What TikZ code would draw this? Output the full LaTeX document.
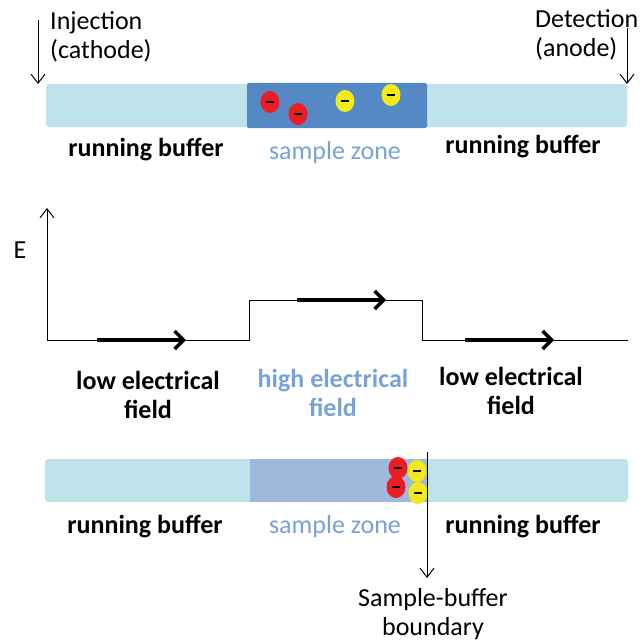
\documentclass[tikz,border=0pt]{standalone}
\usepackage{fontspec}
\setmainfont{Carlito}
\usetikzlibrary{arrows.meta,shapes.geometric}
\definecolor{buf}{RGB}{190,227,235}
\definecolor{samp}{RGB}{85,137,197}
\definecolor{sampl}{RGB}{157,185,219}
\definecolor{samptxt}{RGB}{120,162,214}
\definecolor{ionred}{RGB}{236,28,36}
\definecolor{ionyel}{RGB}{242,234,26}
\tikzset{
  lbl/.style={font=\fontsize{26}{29}\selectfont, inner sep=0pt, align=center},
  blbl/.style={lbl, font=\fontsize{26}{29}\selectfont\bfseries},
  thin arr/.style={line width=1pt, -{Straight Barb[length=9pt,width=14pt]}},
  fieldarr/.style={line width=4.5pt, -{Straight Barb[length=9pt,width=18pt,line width=3.5pt]}},
  ion/.style={ellipse, minimum width=19pt, minimum height=22pt, inner sep=0pt},
  redion/.style={ion, fill=ionred},
  yelion/.style={ion, fill=ionyel},
  bar/.style={rounded corners=3pt, fill=buf, draw=none},
}
\newcommand{\minusmark}[1]{\draw[line width=2.6pt] ([xshift=-4pt]#1.center) -- ([xshift=4pt]#1.center);}
\begin{document}
\begin{tikzpicture}[x=1pt,y=-1pt]
\useasboundingbox (0,0) rectangle (643,642);
% ---------- top tube
\fill[bar] (46,84) rectangle (627,127);
\fill[samp, rounded corners=2pt] (247,83) rectangle (427,128);
\node[redion] (r1) at (270,102) {};
\node[redion] (r2) at (298,114) {};
\node[yelion] (y1) at (345,101) {};
\node[yelion] (y2) at (391,95) {};
\minusmark{r1}\minusmark{r2}\minusmark{y1}\minusmark{y2}
\node[lbl, anchor=west, align=left] (inj) at (50,37) {Injection\\(cathode)};
\node[lbl, anchor=west, align=left] (det) at (535,35) {Detection\\(anode)};
\coordinate (injtop) at (38,20);
\coordinate (injbot) at (38,84);
\coordinate (dettop) at (627,28);
\coordinate (detbot) at (627,84);
\draw[thin arr] (injtop) -- (injbot);
\draw[thin arr] (dettop) -- (detbot);
\node[blbl] (rb1) at (146,150) {running buffer};
\node[lbl, text=samptxt] (sz1) at (335,153) {sample zone};
\node[blbl] (rb2) at (523,147) {running buffer};
% ---------- field graph
\coordinate (o) at (47,340);
\coordinate (etop) at (47,208);
\coordinate (s1) at (249,340);
\coordinate (s2) at (249,300);
\coordinate (s3) at (422,300);
\coordinate (s4) at (422,340);
\coordinate (s5) at (628,340);
\draw[thin arr] (o) -- (etop);
\draw[line width=1pt] (o) -- (s1) -- (s2) -- (s3) -- (s4) -- (s5);
\node[lbl] (E) at (20,250) {E};
\coordinate (a1s) at (97,340); \coordinate (a1e) at (186,340);
\coordinate (a2s) at (297,300); \coordinate (a2e) at (386,300);
\coordinate (a3s) at (465,340); \coordinate (a3e) at (554,340);
\draw[fieldarr] (a1s) -- (a1e);
\draw[fieldarr] (a2s) -- (a2e);
\draw[fieldarr] (a3s) -- (a3e);
\node[blbl] (lf1) at (148,395) {low electrical\\field};
\node[blbl, text=samptxt] (hf) at (333,393) {high electrical\\field};
\node[blbl] (lf2) at (511,391) {low electrical\\field};
% ---------- bottom tube
\fill[bar] (45,459) rectangle (628,502);
\fill[sampl] (250,459) rectangle (427,502);
\node[redion] (r3) at (398,468) {};
\node[yelion] (y3) at (417,471) {};
\node[redion] (r4) at (396,487) {};
\node[yelion] (y4) at (418,493) {};
\minusmark{r3}\minusmark{y3}\minusmark{r4}\minusmark{y4}
\coordinate (btop) at (427,452);
\coordinate (bbot) at (427,578);
\draw[thin arr] (btop) -- (bbot);
\node[blbl] (rb3) at (145,527) {running buffer};
\node[lbl, text=samptxt] (sz2) at (335,527) {sample zone};
\node[blbl] (rb4) at (523,527) {running buffer};
\node[lbl] (sbb) at (433,614) {Sample-buffer\\boundary};
\end{tikzpicture}
\end{document}
